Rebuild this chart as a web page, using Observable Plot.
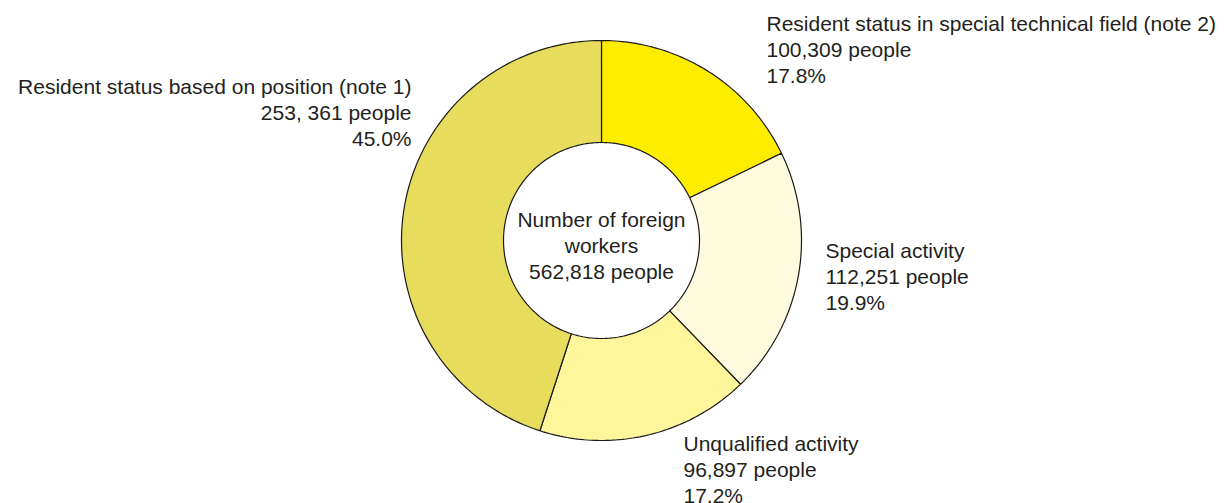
<!DOCTYPE html>
<html>
<head>
<meta charset="utf-8">
<script src="https://cdn.jsdelivr.net/npm/d3@7"></script>
<script src="https://cdn.jsdelivr.net/npm/@observablehq/plot@0.6"></script>
<style>
  html, body { margin: 0; padding: 0; background: #fff; }
  svg { display: block; }
</style>
</head>
<body>
<div id="chart"></div>
<script>
// ---- data ----
const categories = [
  "Resident status in special technical field (note 2)",
  "Special activity",
  "Unqualified activity",
  "Resident status based on position (note 1)"
];
const peopleLabels = ["100,309 people", "112,251 people", "96,897 people", "253, 361 people"];
const values = [100309, 112251, 96897, 253361];
const shares = ["17.8%", "19.9%", "17.2%", "45.0%"];
const colors = ["#ffed00", "#fffbde", "#fff59b", "#e8dc5c"];
const centerLabel = "Number of foreign\nworkers\n562,818 people";

// ---- layout ----
const W = 1224, H = 503;
const cx = 601, cy = 240, R = 200, rIn = 98;
const inner = rIn / R;
// label anchors (middle line) in pixels, with text-anchor
const labelPos = [
  {px: 766, py: 48, anchor: "start"},
  {px: 825, py: 275, anchor: "start"},
  {px: 683, py: 468, anchor: "start"},
  {px: 411, py: 111, anchor: "end"}
];

const total = d3.sum(values);
const slices = [];
let acc = 0;
values.forEach((v, i) => {
  const a0 = acc / total * 2 * Math.PI;
  acc += v;
  const a1 = acc / total * 2 * Math.PI;
  const n = Math.max(8, Math.ceil((a1 - a0) / (Math.PI / 180)));
  for (let k = 0; k <= n; k++) {
    const a = a0 + (a1 - a0) * k / n;
    slices.push({cat: categories[i], color: colors[i], x: Math.sin(a), y: Math.cos(a)});
  }
  for (let k = n; k >= 0; k--) {
    const a = a0 + (a1 - a0) * k / n;
    slices.push({cat: categories[i], color: colors[i], x: inner * Math.sin(a), y: inner * Math.cos(a)});
  }
});

const toX = px => (px - cx) / R;
const toY = py => (cy - py) / R;

const labels = categories.map((c, i) => ({
  text: c + "\n" + peopleLabels[i] + "\n" + shares[i],
  x: toX(labelPos[i].px), y: toY(labelPos[i].py), anchor: labelPos[i].anchor
}));

const font = "'Liberation Sans', Arial, sans-serif";
const textOpts = {fontSize: 21, lineHeight: 1.24, fill: "#231f20", fontFamily: font, lineAnchor: "middle"};

const chart = Plot.plot({
  width: W, height: H,
  margin: 0,
  x: {domain: [toX(0), toX(W)], range: [0, W], axis: null},
  y: {domain: [toY(0), toY(H)], range: [0, H], axis: null},
  color: {type: "identity"},
  style: {fontFamily: font, background: "#fff"},
  marks: [
    Plot.line(slices, {x: "x", y: "y", z: "cat", fill: "color", stroke: "#1a1a1a", strokeWidth: 1.2, curve: "linear-closed", strokeLinejoin: "miter"}),
    Plot.text(labels.filter(d => d.anchor === "start"), {x: "x", y: "y", text: "text", textAnchor: "start", ...textOpts}),
    Plot.text(labels.filter(d => d.anchor === "end"), {x: "x", y: "y", text: "text", textAnchor: "end", ...textOpts}),
    Plot.text([centerLabel], {x: [0], y: [toY(244)], text: d => d, textAnchor: "middle", ...textOpts})
  ]
});
document.getElementById("chart").appendChild(chart);
</script>
</body>
</html>
